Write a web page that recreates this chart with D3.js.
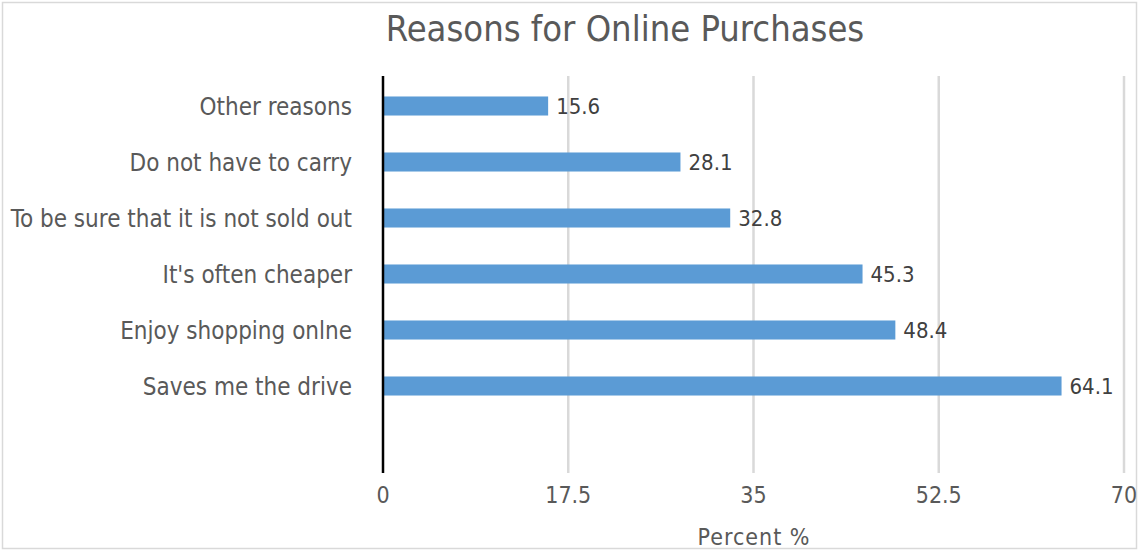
<!DOCTYPE html>
<html>
<head>
<meta charset="utf-8">
<script src="https://cdn.jsdelivr.net/npm/d3@7"></script>
<style>
  html, body { margin: 0; padding: 0; background: #fff; }
  svg { display: block; }
  text { font-family: "DejaVu Sans Condensed", "DejaVu Sans", sans-serif; font-stretch: condensed; }
</style>
</head>
<body>
<svg id="chart" width="1141" height="551"></svg>
<script>
// Categories listed top to bottom; the last slot is an unlabeled blank row
const categories = [
  "Other reasons",
  "Do not have to carry",
  "To be sure that it is not sold out",
  "It's often cheaper",
  "Enjoy shopping onlne",
  "Saves me the drive",
  ""
];
const values = [15.6, 28.1, 32.8, 45.3, 48.4, 64.1, null];
const xTicks = [0, 17.5, 35, 52.5, 70];
const chartTitle = "Reasons for Online Purchases";
const xAxisTitle = "Percent %";

const svg = d3.select("#chart");

// Outer chart frame
svg.append("rect")
  .attr("x", 2.5).attr("y", 2.5)
  .attr("width", 1134).attr("height", 546)
  .attr("fill", "#fff").attr("stroke", "#d9d9d9").attr("stroke-width", 1.5);

const plot = { left: 383, right: 1124, top: 76, bottom: 473 };

const x = d3.scaleLinear().domain([0, 70]).range([plot.left, plot.right]);
const y = d3.scaleBand().domain(d3.range(categories.length))
  .range([78, 470]).paddingInner(0.66).paddingOuter(0.33);

// Vertical gridlines
svg.append("g").selectAll("line")
  .data(xTicks.filter(t => t > 0))
  .join("line")
  .attr("x1", d => x(d)).attr("x2", d => x(d))
  .attr("y1", plot.top).attr("y2", plot.bottom)
  .attr("stroke", "#d9d9d9").attr("stroke-width", 2.5);

const barData = values.map((v, i) => ({ v, i })).filter(d => d.v !== null);

// Bars
svg.append("g").selectAll("rect")
  .data(barData)
  .join("rect")
  .attr("x", x(0))
  .attr("y", d => y(d.i))
  .attr("width", d => x(d.v) - x(0))
  .attr("height", y.bandwidth())
  .attr("fill", "#5b9bd5");

// Value labels
svg.append("g").selectAll("text")
  .data(barData)
  .join("text")
  .attr("x", d => x(d.v) + 8)
  .attr("y", d => y(d.i) + y.bandwidth() / 2 + 8)
  .attr("font-size", 22)
  .attr("fill", "#404040")
  .text(d => d.v.toFixed(1));

// Category axis line
svg.append("line")
  .attr("x1", x(0)).attr("x2", x(0))
  .attr("y1", plot.top).attr("y2", plot.bottom)
  .attr("stroke", "#000").attr("stroke-width", 2.5);

// Category labels
svg.append("g").selectAll("text")
  .data(categories)
  .join("text")
  .attr("x", 352)
  .attr("y", (d, i) => y(i) + y.bandwidth() / 2 + 9)
  .attr("text-anchor", "end")
  .attr("font-size", 24)
  .attr("fill", "#595959")
  .text(d => d);

// X tick labels
svg.append("g").selectAll("text")
  .data(xTicks)
  .join("text")
  .attr("x", d => x(d))
  .attr("y", 503)
  .attr("text-anchor", "middle")
  .attr("font-size", 23)
  .attr("fill", "#595959")
  .text(d => d);

// Titles
svg.append("text")
  .attr("x", 625).attr("y", 41)
  .attr("text-anchor", "middle")
  .attr("font-size", 36)
  .attr("fill", "#595959")
  .text(chartTitle);

svg.append("text")
  .attr("x", 754).attr("y", 545)
  .attr("text-anchor", "middle")
  .attr("font-size", 23)
  .attr("letter-spacing", 1)
  .attr("fill", "#595959")
  .text(xAxisTitle);
</script>
</body>
</html>
